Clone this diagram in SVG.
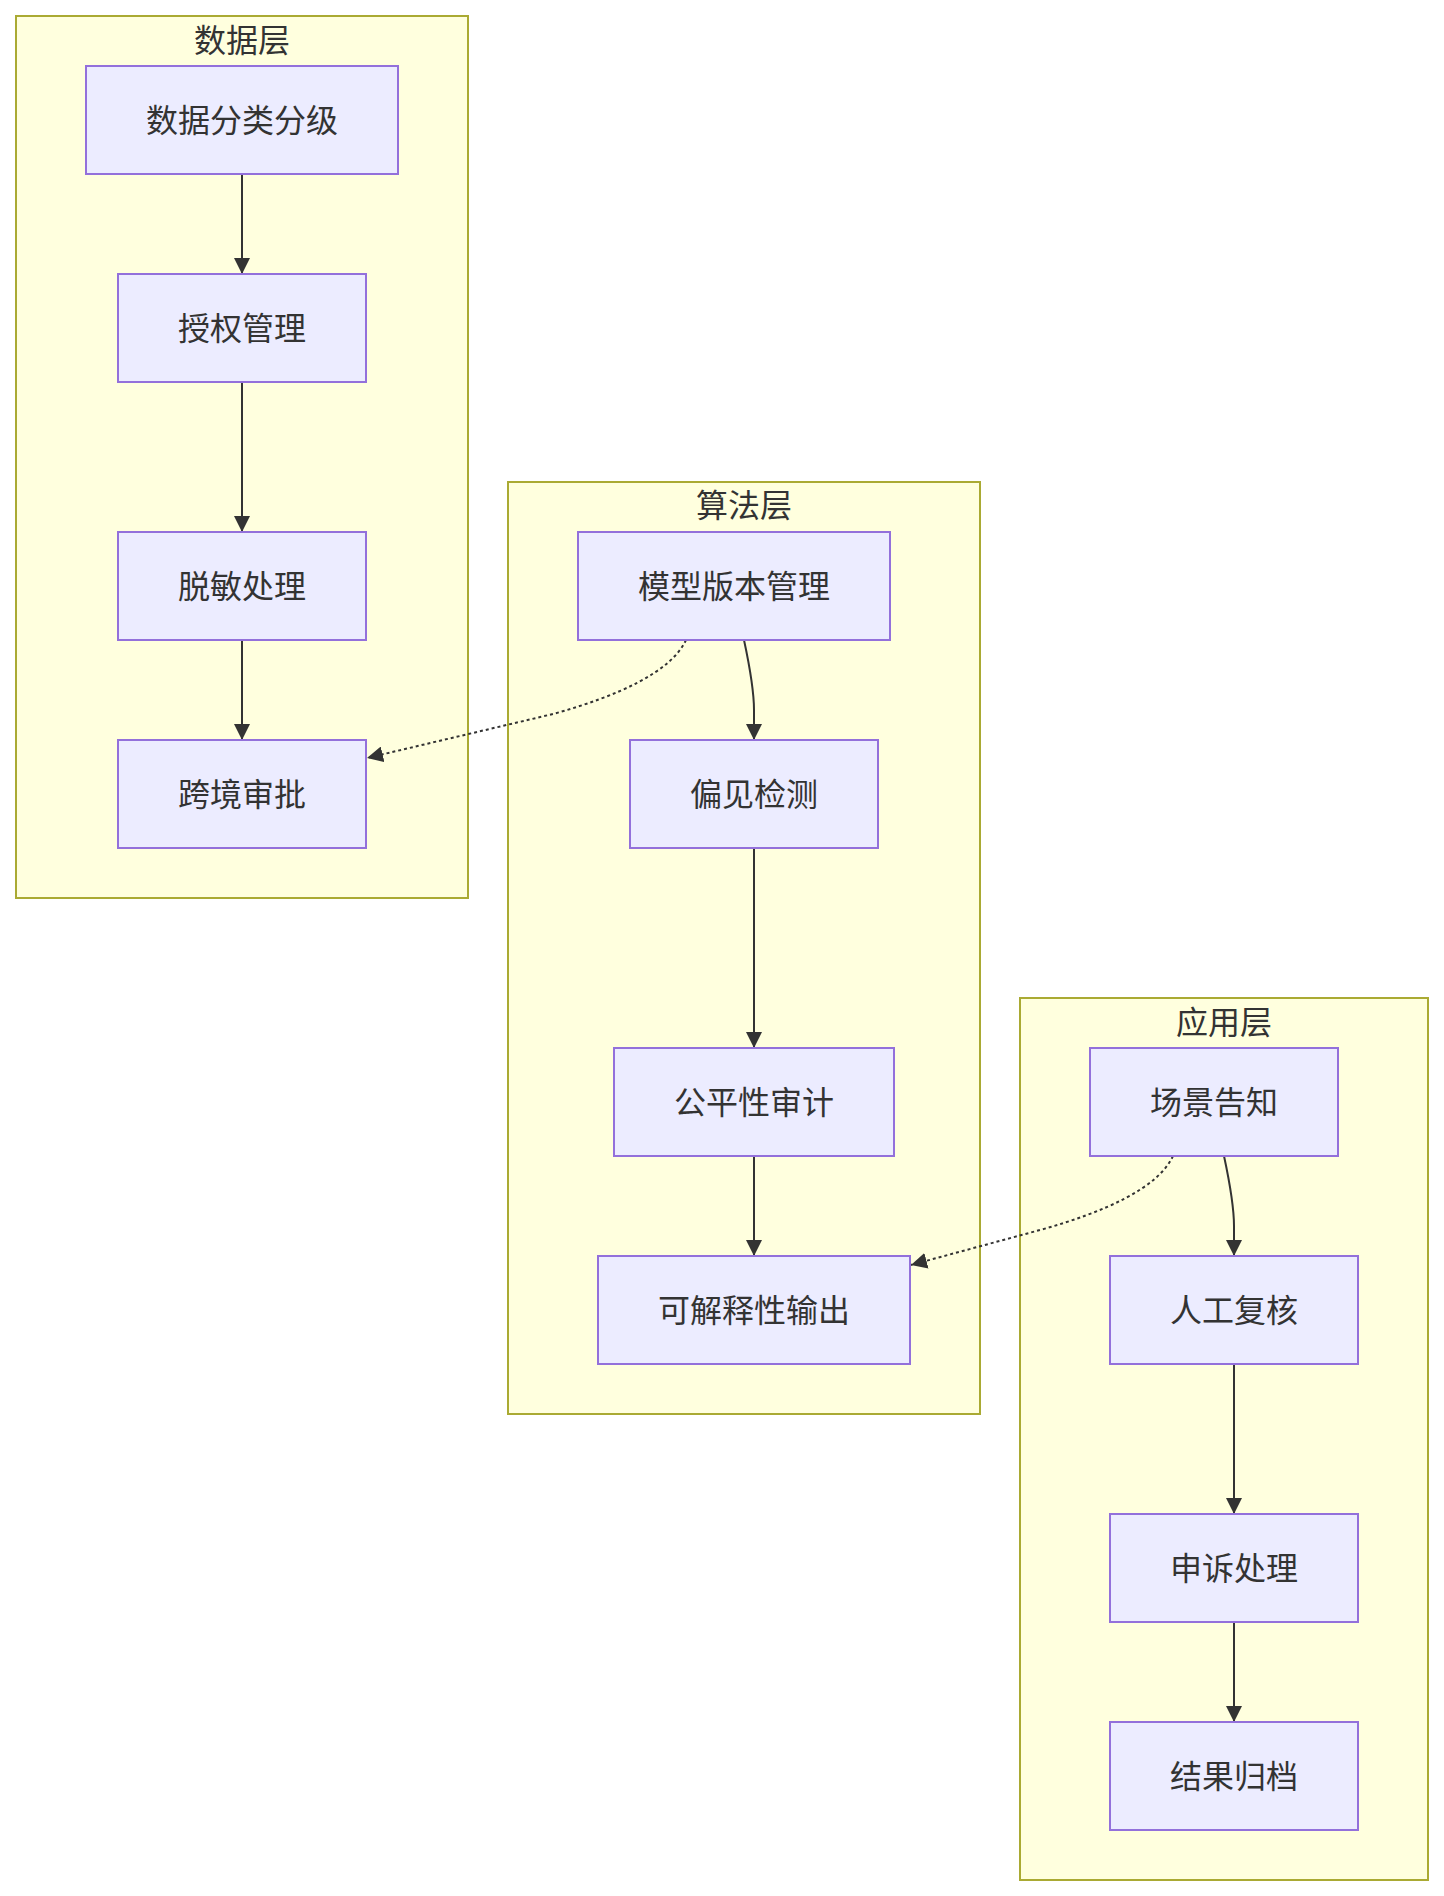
<svg xmlns="http://www.w3.org/2000/svg" width="1444" height="1896" viewBox="0 0 1444 1896">
<style>
.cluster rect{fill:#ffffde;stroke:#aaaa33;stroke-width:2}
.node rect{fill:#ececff;stroke:#9370db;stroke-width:2}
text{font-family:"Noto Sans CJK SC","Noto Sans",sans-serif;font-size:32px;fill:#333;text-anchor:middle}
.edge{fill:none;stroke:#333;stroke-width:2}
.dotted{stroke-dasharray:3 3}
</style>
<defs>
<marker id="arrow" viewBox="0 0 10 10" refX="10" refY="5" markerUnits="userSpaceOnUse" markerWidth="16" markerHeight="16" orient="auto">
<path d="M0,0 L10,5 L0,10 z" fill="#333"/>
</marker>
</defs>
<rect width="1444" height="1896" fill="#ffffff"/>
<g id="cluster-data" class="cluster"><rect x="16" y="16" width="452" height="882"/><text x="242" y="52">数据层</text></g>
<g id="cluster-algo" class="cluster"><rect x="508" y="482" width="472" height="932"/><text x="744" y="517">算法层</text></g>
<g id="cluster-app" class="cluster"><rect x="1020" y="998" width="408" height="882"/><text x="1224" y="1034">应用层</text></g>

<g id="edges">
<path class="edge" d="M242,174 L242,274" marker-end="url(#arrow)"/>
<path class="edge" d="M242,382 L242,532" marker-end="url(#arrow)"/>
<path class="edge" d="M242,640 L242,740" marker-end="url(#arrow)"/>
<path class="edge" d="M744,640 C750,668 754,690 754,710 L754,740" marker-end="url(#arrow)"/>
<path class="edge" d="M754,848 L754,1048" marker-end="url(#arrow)"/>
<path class="edge" d="M754,1156 L754,1256" marker-end="url(#arrow)"/>
<path class="edge" d="M1224,1156 C1230,1184 1234,1206 1234,1226 L1234,1256" marker-end="url(#arrow)"/>
<path class="edge" d="M1234,1364 L1234,1514" marker-end="url(#arrow)"/>
<path class="edge" d="M1234,1622 L1234,1722" marker-end="url(#arrow)"/>
<path class="edge dotted" d="M686,640 C671,672 618,696 553,714 L367,758" marker-end="url(#arrow)"/>
<path class="edge dotted" d="M1173,1156 C1158,1188 1105,1212 1040,1230 L911,1265" marker-end="url(#arrow)"/>
</g>

<g id="n-classify" class="node"><rect x="86" y="66" width="312" height="108"/><text x="242" y="132">数据分类分级</text></g>
<g id="n-auth" class="node"><rect x="118" y="274" width="248" height="108"/><text x="242" y="340">授权管理</text></g>
<g id="n-desens" class="node"><rect x="118" y="532" width="248" height="108"/><text x="242" y="598">脱敏处理</text></g>
<g id="n-cross" class="node"><rect x="118" y="740" width="248" height="108"/><text x="242" y="806">跨境审批</text></g>

<g id="n-model" class="node"><rect x="578" y="532" width="312" height="108"/><text x="734" y="598">模型版本管理</text></g>
<g id="n-bias" class="node"><rect x="630" y="740" width="248" height="108"/><text x="754" y="806">偏见检测</text></g>
<g id="n-fair" class="node"><rect x="614" y="1048" width="280" height="108"/><text x="754" y="1114">公平性审计</text></g>
<g id="n-explain" class="node"><rect x="598" y="1256" width="312" height="108"/><text x="754" y="1322">可解释性输出</text></g>

<g id="n-notice" class="node"><rect x="1090" y="1048" width="248" height="108"/><text x="1214" y="1114">场景告知</text></g>
<g id="n-review" class="node"><rect x="1110" y="1256" width="248" height="108"/><text x="1234" y="1322">人工复核</text></g>
<g id="n-appeal" class="node"><rect x="1110" y="1514" width="248" height="108"/><text x="1234" y="1580">申诉处理</text></g>
<g id="n-archive" class="node"><rect x="1110" y="1722" width="248" height="108"/><text x="1234" y="1788">结果归档</text></g>
</svg>
